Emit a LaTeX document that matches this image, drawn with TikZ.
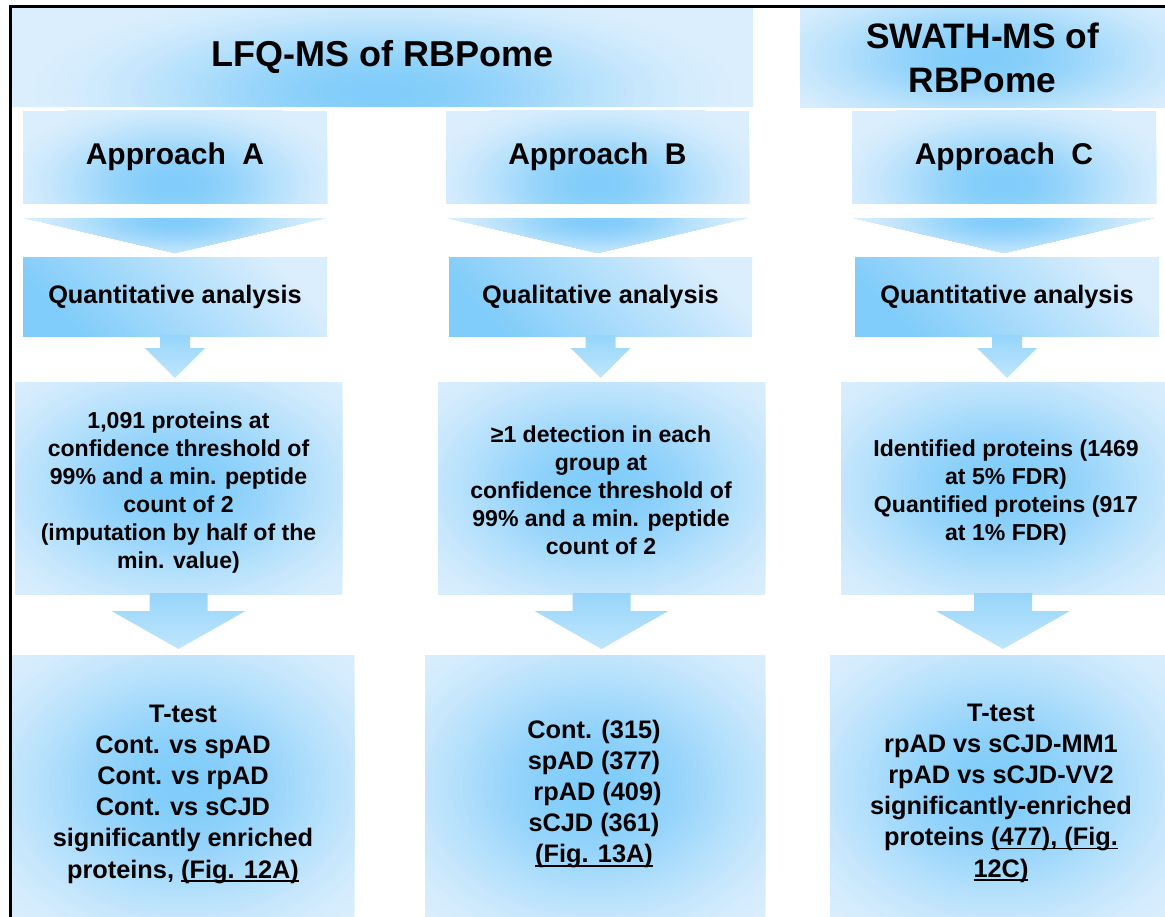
\documentclass[tikz,border=0pt]{standalone}
\usepackage{fontspec}
\setmainfont{Liberation Sans}
\usetikzlibrary{calc}

\definecolor{deep}{RGB}{128,204,250}
\definecolor{light}{RGB}{218,238,253}
\definecolor{arrowtop}{RGB}{150,213,251}
\definecolor{arrowbot}{RGB}{192,230,252}

% thick underline for figure references
\newsavebox\ulbox
\newcommand\ulx[1]{\sbox\ulbox{#1}\rlap{\rule[-2.7pt]{\wd\ulbox}{1.4pt}}\usebox\ulbox}

\tikzset{
  % elliptical glow: centre offset (#1,#2) and radii (#3,#4), as fractions of the shape's size
  glow/.style n args={4}{path picture={
    \pgfpointdiff{\pgfpointanchor{path picture bounding box}{south west}}%
                 {\pgfpointanchor{path picture bounding box}{north east}}%
    \pgfgetlastxy{\glowW}{\glowH}%
    \fill[light] (path picture bounding box.south west) rectangle (path picture bounding box.north east);
    \foreach \k in {0,...,49} {
      \pgfmathsetmacro\gr{1-\k/50}
      \pgfmathsetmacro\gs{\k/49}
      \pgfmathsetmacro\gm{100*\gs*\gs*(3-2*\gs)}
      \fill[deep!\gm!light] ($(path picture bounding box.center)+(#1*\glowW,#2*\glowH)$)
         ellipse [x radius=\gr*#3*\glowW, y radius=\gr*#4*\glowH];
    }
  }}
}

\begin{document}
\begin{tikzpicture}[x=0.75pt, y=-0.75pt,
  panel/.style={rectangle, draw=none, inner sep=0pt, outer sep=0pt},
  boxsize/.style 2 args={minimum width=#1*0.75pt, minimum height=#2*0.75pt},
  glowcentre/.style={panel, glow={0}{0}{0.75}{0.75}},
  glowbottom/.style={panel, glow={0}{-0.3}{0.6}{1.0}},
  slanted/.style={panel, top color=light, bottom color=deep, shading angle=-45},
  chevron/.style={glow={0}{0.45}{0.55}{1.4}},
  blockarrow/.style={top color=arrowtop, bottom color=arrowbot},
  titlefont/.style={font=\fontsize{27}{33}\selectfont\bfseries, align=center},
  swathfont/.style={font=\fontsize{26.5}{33}\selectfont\bfseries, align=center},
  approachfont/.style={font=\fontsize{22.5}{27}\selectfont\bfseries},
  analysisfont/.style={font=\fontsize{19}{22}\selectfont\bfseries},
  detailfont/.style={font=\fontsize{17.3}{21}\selectfont\bfseries, align=center, inner sep=0pt},
  resultfont/.style={font=\fontsize{19}{23.4}\selectfont\bfseries, align=center, inner sep=0pt}
]
\useasboundingbox (0,0) rectangle (1165,917);

% headers
\node[panel, glow={0}{-0.35}{0.5}{1.1}, boxsize={741}{100}, titlefont] (lfq) at (382.5,57) {LFQ-MS of RBPome};
\node[panel, glow={0}{0}{0.7}{0.9}, boxsize={365}{101}, swathfont] (swath) at (982.5,57.5) {SWATH-MS of\\RBPome};

% approaches
\node[glowbottom, boxsize={304}{92}, approachfont] (appA) at (175,157) {Approach\ \ A};
\node[glowbottom, boxsize={303}{92}, approachfont] (appB) at (597.5,157) {Approach\ \ B};
\node[glowbottom, boxsize={304}{92}, approachfont] (appC) at (1004,157) {Approach\ \ C};

% chevrons below the approaches
\foreach \s in {appA, appB, appC} {
  \path[chevron] ($(\s.south west)+(1,15)$) -- ($(\s.south east)+(-1,15)$)
     -- ($(\s.south)+(0,50)$) -- cycle;
}

% analysis type
\node[slanted, boxsize={304}{79}, analysisfont] (anaA) at (175,296.5) {Quantitative analysis};
\node[slanted, boxsize={303}{79}, analysisfont] (anaB) at (600.5,296.5) {Qualitative analysis};
\node[slanted, boxsize={304}{79}, analysisfont] (anaC) at (1007,296.5) {Quantitative analysis};

% small block arrows
\foreach \s in {anaA, anaB, anaC} {
  \path[blockarrow] ($(\s.south)+(-15,-1)$) -- ++(30,0) -- ++(0,13) -- ++(15,0)
     -- ($(\s.south)+(0,42)$) -- ($(\s.south)+(-30,12)$) -- ++(15,0) -- cycle;
}

% criteria boxes
\node[glowcentre, boxsize={327}{212}] (midA) at (178.5,488) {};
\node[glowcentre, boxsize={327}{212}] (midB) at (601.5,488) {};
\node[glowcentre, boxsize={324}{212}] (midC) at (1003,488) {};

\node[detailfont] (midAtext) at (178.5,493) {1,091 proteins at\\confidence threshold of\\99\% and a min. peptide\\count of 2\\(imputation by half of the\\min. value)};
\node[detailfont] (midBtext) at (601,490) {≥1 detection in each\\group at\\confidence threshold of\\99\% and a min. peptide\\count of 2};
\node[detailfont] (midCtext) at (1006,493) {Identified proteins (1469\\at 5\% FDR)\\Quantified proteins (917\\at 1\% FDR)};

% large block arrows
\foreach \s in {midA, midB, midC} {
  \path[blockarrow] ($(\s.south)+(-29,-1)$) -- ++(58,0) -- ++(0,18) -- ++(38,0)
     -- ($(\s.south)+(0,55)$) -- ($(\s.south)+(-67,17)$) -- ++(38,0) -- cycle;
}

% result boxes
\node[glowcentre, boxsize={342}{262}] (botA) at (183,786) {};
\node[glowcentre, boxsize={340}{262}] (botB) at (595,786) {};
\node[glowcentre, boxsize={335}{262}] (botC) at (997.5,786) {};

\node[resultfont] (botAtext) at (183,794) {T-test\\Cont. vs spAD\\Cont. vs rpAD\\Cont. vs sCJD\\significantly\ enriched\\proteins, \ulx{(Fig. 12A)}};
\node[resultfont] (botBtext) at (594,794) {Cont. (315)\\spAD (377)\\\ rpAD (409)\\sCJD (361)\\\ulx{(Fig. 13A)}};
\node[resultfont] (botCtext) at (1001,793) {T-test\\rpAD vs sCJD-MM1\\rpAD vs sCJD-VV2\\significantly-enriched\\proteins \ulx{(477), (Fig.}\\\ulx{12C)}};

% frame on the left and top
\coordinate (frameBL) at (10.8,917);
\coordinate (frameTL) at (10.8,6.2);
\coordinate (frameTR) at (1165,6.2);
\draw[line width=2.3pt] (frameBL) -- (frameTL) -- (frameTR);
\end{tikzpicture}
\end{document}
